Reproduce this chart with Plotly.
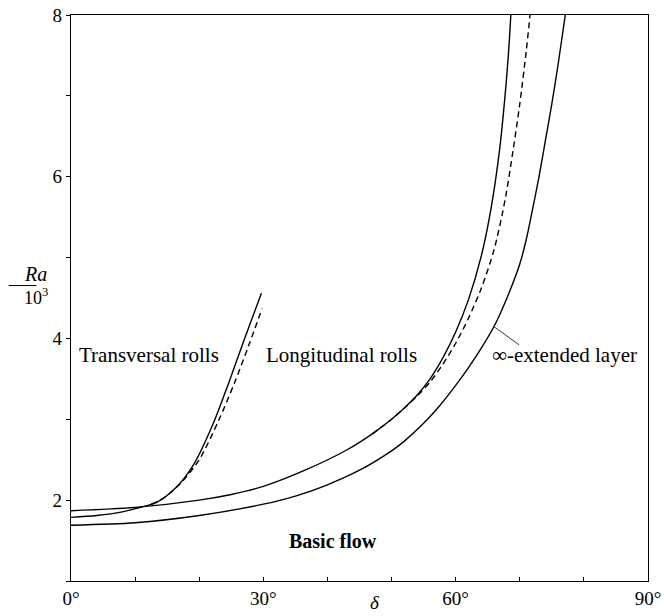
import plotly.graph_objects as go

# Critical Rayleigh number (Ra / 10^3) versus inclination angle delta (degrees)

# Transversal rolls, solid
trans_delta = [0, 4, 8, 11, 13.3, 16.3, 19.2, 22.2, 24.6, 27, 29.7]
trans_ra = [1.787, 1.81, 1.855, 1.915, 1.97, 2.15, 2.45, 2.95, 3.45, 3.98, 4.56]

# Transversal rolls, dashed
trans_d_delta = [12.5, 14.5, 17, 20, 23, 25.5, 27.8, 29.8]
trans_d_ra = [1.95, 2.03, 2.2, 2.5, 2.98, 3.45, 3.93, 4.37]

# Longitudinal rolls, solid
long_delta = [0, 10, 20, 25, 30, 36.5, 43, 47, 50, 52, 54, 56, 58, 60, 62, 64,
              65.5, 66.8, 67.7, 68.3, 68.6]
long_ra = [1.869, 1.91, 2.0, 2.07, 2.17, 2.37, 2.62, 2.82, 3.0, 3.14, 3.3, 3.5,
           3.76, 4.08, 4.48, 5.02, 5.6, 6.3, 7.0, 7.6, 8.0]

# Longitudinal rolls, dashed
long_d_delta = [47, 50, 52, 54, 56, 58, 60, 62, 64, 66, 67.7, 69, 70, 71, 71.6]
long_d_ra = [2.82, 3.0, 3.14, 3.29, 3.46, 3.68, 3.94, 4.25, 4.62, 5.1, 5.71, 6.35,
             6.9, 7.55, 8.0]

# Infinitely extended layer
inf_delta = [0, 10, 20, 30, 35, 40, 45, 50, 52, 55, 57, 60, 62, 64, 66, 68, 70,
             71, 72, 73, 74, 75, 76, 77.1]
inf_ra = [1.69, 1.72, 1.81, 1.95, 2.05, 2.19, 2.37, 2.61, 2.73, 2.95, 3.12, 3.42,
          3.64, 3.88, 4.15, 4.5, 4.92, 5.22, 5.6, 6.0, 6.45, 6.9, 7.4, 8.0]

x_tickvals = [0, 30, 60, 90]
x_ticktext = ["0°", "30°", "60°", "90°"]
y_tickvals = [2, 4, 6, 8]
y_ticktext = ["2", "4", "6", "8"]

FONT = "Liberation Serif, Times New Roman, serif"

fig = go.Figure()


def curve(x, y, dash="solid"):
    fig.add_trace(go.Scatter(
        x=x, y=y, mode="lines",
        line=dict(color="black", width=1.4, dash=dash, shape="spline", smoothing=0.8),
        showlegend=False, hoverinfo="skip"))


curve(trans_delta, trans_ra)
curve(trans_d_delta, trans_d_ra, "6px,4px")
curve(long_delta, long_ra)
curve(long_d_delta, long_d_ra, "6px,4px")
curve(inf_delta, inf_ra)

# Leader line for the extended-layer label
fig.add_shape(type="line", x0=65.9, y0=4.15, x1=69.9, y1=3.92,
              line=dict(color="black", width=0.8))

labels = [
    ("Transversal rolls", 12.1, 3.79, False, 21),
    ("Longitudinal rolls", 42.2, 3.79, False, 21),
    ("∞-extended layer", 77.0, 3.79, False, 21),
    ("Basic flow", 40.9, 1.5, True, 20),
]
for text, x, y, bold, size in labels:
    fig.add_annotation(x=x, y=y, xref="x", yref="y", showarrow=False,
                       text=f"<b>{text}</b>" if bold else text,
                       font=dict(family=FONT, size=size, color="black"))

# Axis titles
fig.add_annotation(x=-0.085, y=0.542, xref="paper", yref="paper", showarrow=False,
                   text="<i>Ra</i>", font=dict(family=FONT, size=20, color="black"))
fig.add_annotation(x=-0.085, y=0.502, xref="paper", yref="paper", showarrow=False,
                   text="10<sup>3</sup>", font=dict(family=FONT, size=18, color="black"))
fig.add_shape(type="line", xref="paper", yref="paper", x0=-0.108, x1=-0.06,
              y0=0.522, y1=0.522, line=dict(color="black", width=1))
fig.add_annotation(x=0.526, y=-0.038, xref="paper", yref="paper", showarrow=False,
                   text="<i>δ</i>", yanchor="middle",
                   font=dict(family=FONT, size=19, color="black"))

fig.update_layout(
    width=664, height=616,
    margin=dict(l=70.5, r=16, t=15, b=35, autoexpand=False),
    paper_bgcolor="white", plot_bgcolor="white",
    font=dict(family=FONT, size=19, color="black"),
    xaxis=dict(range=[0, 90], tickvals=x_tickvals, ticktext=x_ticktext,
               ticks="inside", ticklen=4, tickwidth=1.2, tickcolor="black",
               minor=dict(dtick=10, ticks="inside", ticklen=4, tickwidth=1.2,
                          tickcolor="black", showgrid=False),
               showline=True, linecolor="black", linewidth=1.4, mirror=True,
               showgrid=False, zeroline=False, fixedrange=True, automargin=False),
    yaxis=dict(range=[1, 8], tickvals=y_tickvals, ticktext=y_ticktext,
               ticks="outside", ticklen=4, tickwidth=1.2, tickcolor="black",
               minor=dict(dtick=1, ticks="outside", ticklen=4, tickwidth=1.2,
                          tickcolor="black", showgrid=False),
               showline=True, linecolor="black", linewidth=1.4, mirror=True,
               showgrid=False, zeroline=False, fixedrange=True, automargin=False),
)

fig.write_html("out.html", config={"displayModeBar": False})
